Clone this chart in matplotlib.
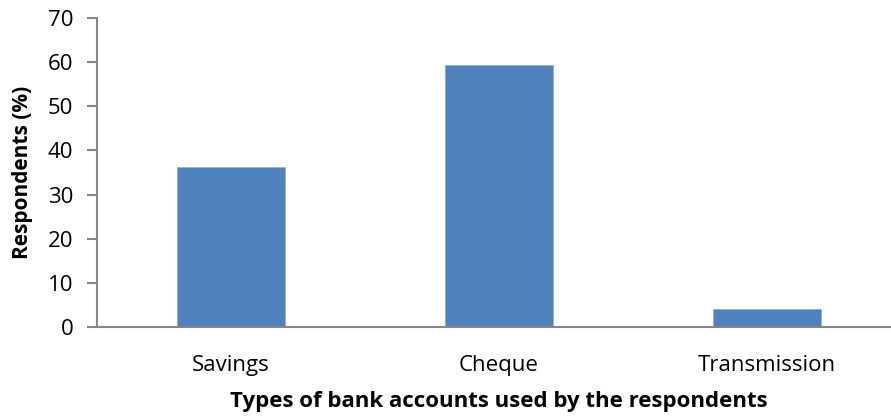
import matplotlib
matplotlib.use("Agg")
import matplotlib.pyplot as plt

categories = ["Savings", "Cheque", "Transmission"]
values = [36.3, 59.4, 4.0]
yticks = [0, 10, 20, 30, 40, 50, 60, 70]

plt.rcParams['font.family'] = ['Open Sans', 'DejaVu Sans']

fig = plt.figure(figsize=(8.91, 4.19), dpi=100)
ax = fig.add_axes([97 / 891, 1 - 327 / 419, 804 / 891, 309 / 419])

x = list(range(len(categories)))
ax.bar(x, values, width=0.4, color="#4F81BD", edgecolor="#8DB3E2", linewidth=0.6)

ax.set_xlim(-0.5, 2.5)
ax.set_ylim(0, 70)
ax.set_yticks(yticks)
ax.set_xticks(x)
ax.set_xticklabels(categories)

for side in ("top", "right"):
    ax.spines[side].set_visible(False)
for side in ("left", "bottom"):
    ax.spines[side].set_color("#868686")
    ax.spines[side].set_linewidth(1.5)

ax.tick_params(axis="y", direction="out", length=7, width=1.5, color="#868686",
               labelsize=16, pad=10)
ax.tick_params(axis="x", length=0, labelsize=16, pad=20)

ax.set_xlabel("Types of bank accounts used by the respondents", fontsize=16,
              fontweight="bold", labelpad=11)
ax.set_ylabel("Respondents (%)", fontsize=15, fontweight="bold", labelpad=11)

fig.savefig("out.png", dpi=100)
